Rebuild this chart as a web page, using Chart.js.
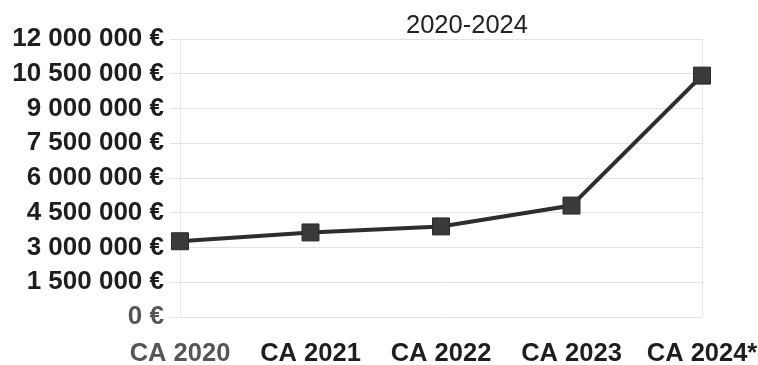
<!DOCTYPE html>
<html>
<head>
<meta charset="utf-8">
<script src="https://cdn.jsdelivr.net/npm/chart.js@4"></script>
<style>
  html, body { margin: 0; padding: 0; background: #fff; }
  #wrap { position: relative; width: 758px; height: 365px; }
  #title {
    position: absolute; left: 406px; top: 10px;
    font: 25.5px "Liberation Sans", Arial, sans-serif; color: #222;
  }
</style>
</head>
<body>
<div id="wrap">
  <canvas id="chart" width="758" height="365"></canvas>
  <div id="title">2020-2024</div>
</div>
<script>
const categories = ['CA 2020', 'CA 2021', 'CA 2022', 'CA 2023', 'CA 2024*'];
const chiffreAffaires = [3270000, 3650000, 3910000, 4810000, 10420000];
const yMax = 12000000;
const yStep = 1500000;

function formatEuro(v) {
  return String(v).replace(/\B(?=(\d{3})+(?!\d))/g, ' ') + ' €';
}

const ctx = document.getElementById('chart');
new Chart(ctx, {
  type: 'line',
  data: {
    labels: categories,
    datasets: [{
      data: chiffreAffaires,
      borderColor: '#2e2e2e',
      borderWidth: 4,
      pointStyle: 'rect',
      pointRadius: 12,
      pointBackgroundColor: '#3a3a3a',
      pointBorderColor: '#2a2a2a',
      pointBorderWidth: 1,
      tension: 0,
    }]
  },
  options: {
    responsive: false,
    animation: false,
    layout: { padding: { top: 39, right: 56, left: 0, bottom: 0 } },
    plugins: {
      legend: { display: false },
      tooltip: { enabled: false },
      title: { display: false }
    },
    scales: {
      y: {
        min: 0,
        max: yMax,
        ticks: {
          stepSize: yStep,
          padding: 6,
          color: c => c.tick && c.tick.value === 0 ? '#555' : '#1e1e1e',
          font: { family: '"Liberation Sans", Arial, sans-serif', size: 26, weight: 'bold' },
          callback: v => formatEuro(v)
        },
        grid: { color: '#e2e2e2', tickLength: 10, lineWidth: 1 },
        border: { display: true, color: '#e8e8e8' },
        afterFit: s => { s.width = 180; s.paddingTop = 0; s.paddingBottom = 0; }
      },
      x: {
        offset: false,
        ticks: {
          padding: 22,
          color: c => c.index === 0 ? '#555' : '#1e1e1e',
          font: { family: '"Liberation Sans", Arial, sans-serif', size: 25.5, weight: 'bold' }
        },
        grid: {
          color: c => (c.index === 0 || c.index === categories.length - 1) ? '#e8e8e8' : 'rgba(0,0,0,0)',
          drawTicks: false
        },
        border: { display: false },
        afterFit: s => { s.height = 48; s.paddingLeft = 0; s.paddingRight = 0; }
      }
    }
  }
});
</script>
</body>
</html>
